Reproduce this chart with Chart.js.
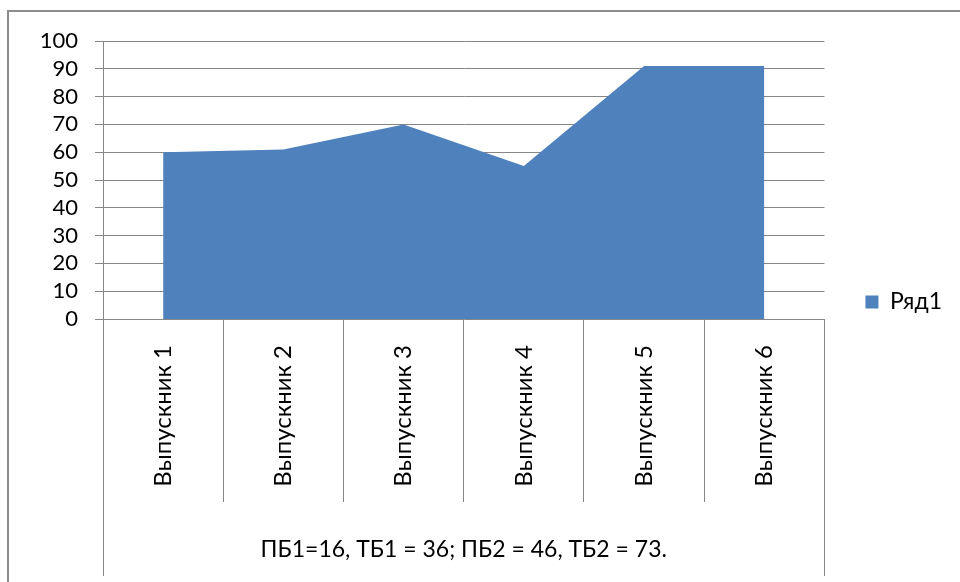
<!DOCTYPE html>
<html>
<head>
<meta charset="utf-8">
<script src="https://cdn.jsdelivr.net/npm/chart.js@4"></script>
<style>
  html, body { margin: 0; padding: 0; background: #fff; }
  #wrap { width: 960px; height: 582px; }
</style>
</head>
<body>
<div id="wrap"><canvas id="myChart" width="960" height="582"></canvas></div>
<script>
var categories = ["Выпускник 1", "Выпускник 2", "Выпускник 3", "Выпускник 4", "Выпускник 5", "Выпускник 6"];
var values = [60, 61, 70, 55, 91, 91];
var seriesName = "Ряд1";
var axisNote = "ПБ1=16, ТБ1 = 36; ПБ2 = 46, ТБ2 = 73.";

var gridColor = "#868686";
var fontName = "Lato, 'Open Sans', sans-serif";

// рамка диаграммы и крайние линии под осью категорий (до самого низа)
var framePlugin = {
  id: "frame",
  beforeDraw: function (chart) {
    var c = chart.ctx;
    c.save();
    c.strokeStyle = "#8c8c8c";
    c.lineWidth = 2;
    c.beginPath();
    c.moveTo(8, 600);
    c.lineTo(8, 11);
    c.lineTo(970, 11);
    c.stroke();
    c.restore();
  },
  afterDraw: function (chart) {
    var c = chart.ctx;
    var x = chart.scales.x;
    var area = chart.chartArea;
    c.save();
    c.strokeStyle = gridColor;
    c.lineWidth = 1;
    [x.left, x.right].forEach(function (px) {
      px = Math.round(px - 0.5) + 0.5;
      c.beginPath();
      c.moveTo(px, area.bottom);
      c.lineTo(px, 576);
      c.stroke();
    });
    c.restore();
  }
};

var ctx = document.getElementById("myChart").getContext("2d");
var myChart = new Chart(ctx, {
  type: "line",
  data: {
    labels: categories,
    datasets: [
      {
        label: seriesName,
        data: values,
        fill: "origin",
        backgroundColor: "#4F81BD",
        borderColor: "#4F81BD",
        borderWidth: 0,
        pointRadius: 0,
        tension: 0,
      },
    ],
  },
  options: {
    responsive: false,
    animation: false,
    layout: { padding: { top: 41, bottom: 19, left: 0, right: 8 } },
    plugins: {
      tooltip: { enabled: false },
      legend: {
        position: "right",
        labels: {
          boxWidth: 13,
          boxHeight: 13,
          padding: 41,
          color: "#000",
          font: { family: fontName, size: 23 },
        },
      },
    },
    scales: {
      x: {
        offset: true,
        grid: {
          offset: true,
          drawOnChartArea: false,
          tickLength: 183,
          // крайние линии рисует framePlugin
          color: function (c) {
            return c.index === 0 || c.index === categories.length ? "rgba(0,0,0,0)" : gridColor;
          },
        },
        border: { display: false },
        ticks: {
          minRotation: 90,
          maxRotation: 90,
          padding: -157,
          color: "#000",
          font: { family: fontName, size: 24 },
        },
        title: {
          display: true,
          text: axisNote,
          color: "#000",
          font: { family: fontName, size: 23 },
          padding: { top: 0, bottom: 0 },
        },
        afterFit: function (scale) {
          scale.height = 244;
        },
      },
      y: {
        min: 0,
        max: 100,
        ticks: {
          stepSize: 10,
          autoSkip: false,
          padding: 17,
          color: "#000",
          font: { family: fontName, size: 22 },
        },
        grid: { color: gridColor, tickLength: 8 },
        border: { color: gridColor },
        afterFit: function (scale) {
          scale.width = 103;
        },
      },
    },
  },
  plugins: [framePlugin],
});
</script>
</body>
</html>
